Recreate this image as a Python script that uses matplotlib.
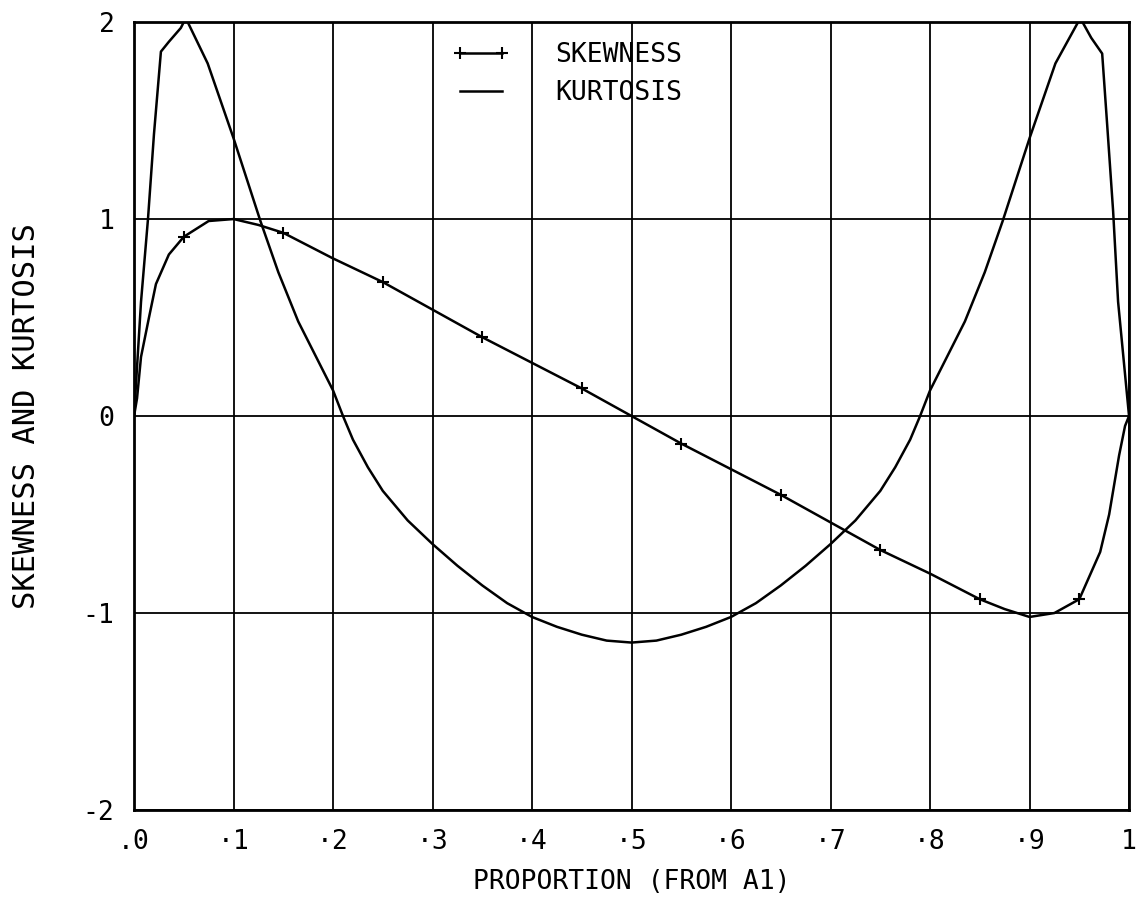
import numpy as np
import matplotlib
matplotlib.use("Agg")
import matplotlib.pyplot as plt
from matplotlib.lines import Line2D

# kurtosis curve
kurt_x = [0.0, 0.007, 0.014, 0.02, 0.027, 0.035, 0.047, 0.052, 0.074, 0.1,
          0.127, 0.145, 0.165, 0.185, 0.2, 0.21, 0.22, 0.235, 0.25, 0.275,
          0.3, 0.325, 0.35, 0.375, 0.4, 0.425, 0.45, 0.475, 0.5, 0.525,
          0.55, 0.575, 0.6, 0.625, 0.65, 0.675, 0.7, 0.725, 0.75, 0.765,
          0.78, 0.79, 0.8, 0.815, 0.835, 0.855, 0.873, 0.9, 0.926, 0.951,
          0.962, 0.973, 0.978, 0.984, 0.989, 1.0]
kurt_y = [0.0, 0.58, 1.0, 1.43, 1.85, 1.9, 1.97, 2.02, 1.79, 1.41,
          0.99, 0.73, 0.48, 0.28, 0.13, 0.0, -0.12, -0.26, -0.38, -0.53,
          -0.65, -0.76, -0.86, -0.95, -1.02, -1.07, -1.11, -1.14, -1.15, -1.14,
          -1.11, -1.07, -1.02, -0.95, -0.86, -0.76, -0.65, -0.53, -0.38, -0.26,
          -0.12, 0.0, 0.13, 0.28, 0.48, 0.73, 0.99, 1.41, 1.79, 2.02,
          1.92, 1.84, 1.48, 1.04, 0.58, 0.0]

# skewness curve
skew_x = [0.0, 0.003, 0.007, 0.015, 0.022, 0.035, 0.05, 0.075, 0.1, 0.125,
          0.15, 0.2, 0.25, 0.3, 0.35, 0.4, 0.45, 0.5, 0.55, 0.6,
          0.65, 0.7, 0.75, 0.8, 0.85, 0.875, 0.9, 0.925, 0.95, 0.971,
          0.98, 0.99, 0.996, 1.0]
skew_y = [0.0, 0.09, 0.3, 0.5, 0.67, 0.82, 0.91, 0.99, 1.0, 0.97,
          0.93, 0.8, 0.68, 0.54, 0.4, 0.27, 0.14, 0.0, -0.14, -0.27,
          -0.4, -0.54, -0.68, -0.8, -0.93, -0.98, -1.02, -1.0, -0.93, -0.69,
          -0.5, -0.2, -0.05, 0.0]

x_ticks = [0, 0.1, 0.2, 0.3, 0.4, 0.5, 0.6, 0.7, 0.8, 0.9, 1.0]
x_labels = ['.0', '·1', '·2', '·3', '·4', '·5', '·6', '·7', '·8', '·9', '1']
y_ticks = [-2, -1, 0, 1, 2]
y_labels = ['-2', '-1', '0', '1', '2']

plt.rcParams['font.family'] = ['DejaVu Sans Mono']
fs = 19

fig = plt.figure(figsize=(11.37, 9.19), dpi=100)
ax = fig.add_axes([0.1179, 0.1186, 0.8751, 0.8574])

ax.set_xlim(0, 1)
ax.set_ylim(-2, 2)
ax.set_xticks(x_ticks)
ax.set_xticklabels(x_labels, fontsize=fs)
ax.set_yticks(y_ticks)
ax.set_yticklabels(y_labels, fontsize=fs)
ax.tick_params(length=0, pad=14)
ax.grid(True, color='black', linewidth=1.3)
ax.set_axisbelow(True)
for s in ax.spines.values():
    s.set_linewidth(2)

ax.plot(kurt_x, kurt_y, color='black', linewidth=1.8)
ax.plot(skew_x, skew_y, color='black', linewidth=1.8)

# "+" markers on skewness at .05, .15, ... .95
mk = [i for i, x in enumerate(skew_x)
      if abs(x * 20 - round(x * 20)) < 1e-9 and round(x * 20) % 2 == 1]
ax.plot(np.array(skew_x)[mk], np.array(skew_y)[mk], linestyle='none',
        marker='+', markersize=8, markeredgewidth=1.5, color='black')

h_skew = Line2D([0], [0], color='black', linewidth=1.8, marker='+',
                markersize=8, markeredgewidth=1.5)
h_kurt = Line2D([0], [0], color='black', linewidth=1.8)
ax.legend([h_skew, h_kurt], ['SKEWNESS', 'KURTOSIS'], loc='upper left',
          bbox_to_anchor=(0.3196, 0.975), frameon=False, fontsize=fs,
          handlelength=2.2, handletextpad=1.7, labelspacing=0.48,
          borderpad=0, borderaxespad=0, numpoints=2)

ax.set_xlabel('PROPORTION (FROM A1)', fontsize=fs, labelpad=10)
ax.set_ylabel('SKEWNESS AND KURTOSIS', fontsize=22, labelpad=30)

fig.savefig('out.png', dpi=100)
